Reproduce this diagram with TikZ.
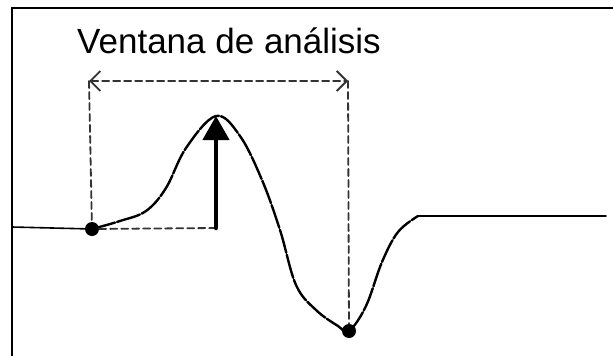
\documentclass[tikz,border=0pt]{standalone}
\usepackage{fontspec}
\setmainfont{Liberation Sans}
\usepackage{tikz}
\usetikzlibrary{positioning,arrows.meta}

\begin{document}
\begin{tikzpicture}[x=1pt, y=-1pt, line cap=round,
  dot/.style={circle,fill=black,inner sep=0pt,minimum size=14pt},
  guide/.style={line width=1.8pt,black!80,dash pattern=on 7pt off 4pt}]
\useasboundingbox (0,0) rectangle (613,356);
% frame (top and left only)
\draw[line width=2.2pt] (12,356) -- (12,8) -- (613,8);
% marks
\node[dot] (start) at (92,229) {};
\node[dot] (valley) at (349,331) {};
\coordinate (peak) at (216,116);
\coordinate (foot) at (216,228);
\coordinate (wl) at (89,81);
\coordinate (wr) at (348,81);
\coordinate (left) at (12,227);
\coordinate (rise) at (418,216);
\coordinate (right) at (606,216);
\node[font=\fontsize{35}{38}\selectfont, anchor=base] (title) at (229,53) {Ventana de análisis};
% signal
\draw[line width=1.6pt] (left) -- (start.center);
\draw[line width=2.4pt, dash pattern=on 24pt off 2pt] plot[smooth, tension=0.6] coordinates {(start.center) (120,221) (146,211) (166,188) (186,148) (peak) (240,136) (262,180) (280,230) (296,285) (316,310) (338,326) (valley.center) (366,306) (382,262) (398,232) (rise)};
\draw[line width=1.6pt] (rise) -- (right);
% window
\draw[guide, {Straight Barb[length=10pt,width=20pt]}-{Straight Barb[length=10pt,width=20pt]}] (wl) -- (wr);
\draw[guide] (wl) -- (start);
\draw[guide] (wr) -- (valley);
\draw[guide] (start) -- (foot);
% amplitude
\draw[line width=4.5pt, -{Triangle[length=24pt,width=26pt]}] (foot) -- (peak);
\end{tikzpicture}
\end{document}
